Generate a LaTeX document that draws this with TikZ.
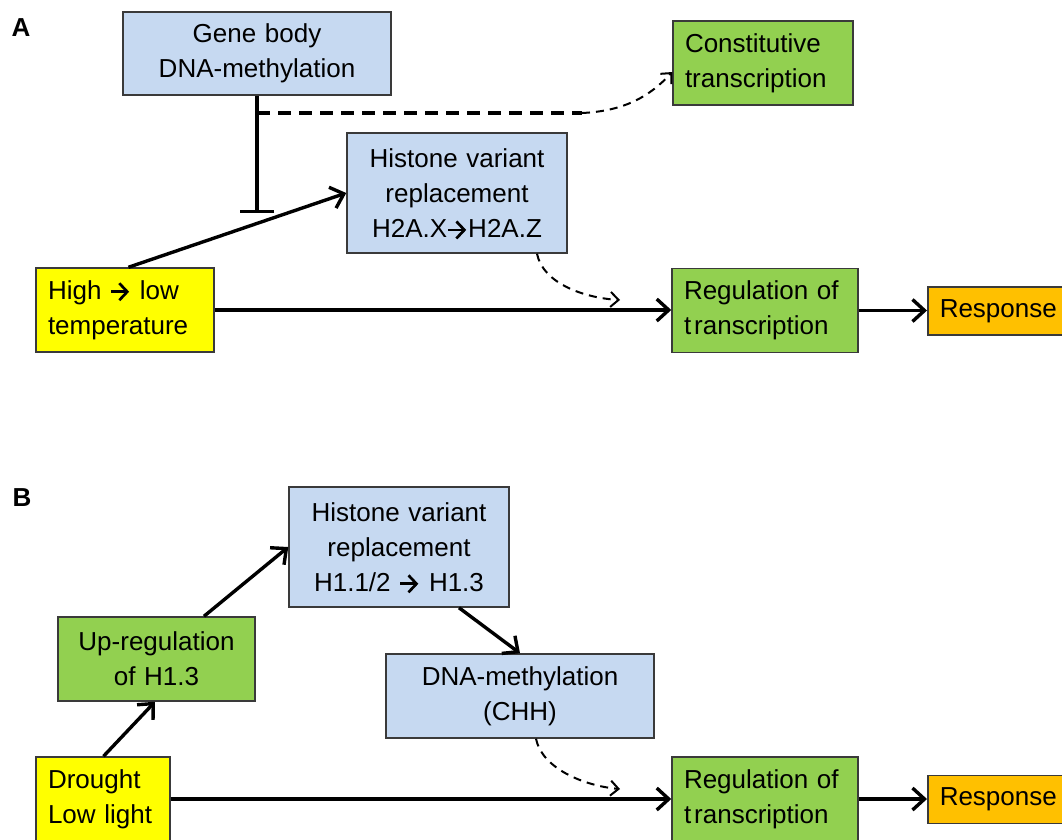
\documentclass[tikz,border=0pt]{standalone}
\usepackage{fontspec}
\setmainfont{Liberation Sans}
\usetikzlibrary{arrows.meta}
\definecolor{boxblue}{HTML}{C6D9F1}
\definecolor{boxgreen}{HTML}{92D050}
\definecolor{boxyellow}{HTML}{FFFF00}
\definecolor{boxorange}{HTML}{FFC000}
\definecolor{boxline}{HTML}{3A3A3A}
\newsavebox{\arrbox}
\newcommand{\rarr}{\usebox{\arrbox}}
\begin{document}
\sbox{\arrbox}{\begin{pgfpicture}
  \pgfpathrectangle{\pgfpoint{-1pt}{0pt}}{\pgfpoint{21pt}{15pt}}
  \pgfusepath{use as bounding box}
  \pgfsetlinewidth{2.7pt}
  \pgfsetarrowsend{Straight Barb[length=8pt,width=17pt]}
  \pgfpathmoveto{\pgfpoint{0pt}{7.5pt}}
  \pgfpathlineto{\pgfpoint{18pt}{7.5pt}}
  \pgfusepath{stroke}
\end{pgfpicture}}
\begin{tikzpicture}[x=1pt,y=-1pt,
  box/.style={draw=boxline, line width=1.5pt, inner xsep=12pt, inner ysep=0pt,
    font=\fontsize{26}{35}\selectfont},
  blue/.style={box, fill=boxblue},
  green/.style={box, fill=boxgreen},
  yellow/.style={box, fill=boxyellow},
  orange/.style={box, fill=boxorange},
  panel/.style={font=\fontsize{26}{30}\selectfont\bfseries},
  conn/.style={line width=3.4pt, -{Straight Barb[length=12pt,width=22pt]}},
  dconn/.style={line width=2pt, dash pattern=on 8pt off 6pt, -{Straight Barb[length=8pt,width=15pt]}},
  thickdash/.style={line width=3.8pt, dash pattern=on 13pt off 8pt},
  inhib/.style={line width=3.4pt, -{Bar[width=34pt]}}
]
\useasboundingbox (0,0) rectangle (1062,839);
\clip (0,0) rectangle (1062,839);

% ---------- Panel A ----------
\node[panel] (labA) at (21,28) {A};
\node[blue, minimum width=268pt, minimum height=83pt, text width=244pt, align=center] (gene) at (257,53.5) {Gene body\\DNA-methylation};
\node[green, minimum width=180pt, minimum height=84pt, text width=156pt, align=left] (const) at (763,63) {Constitutive\\transcription};
\node[blue, minimum width=220pt, minimum height=120pt, text width=196pt, align=center] (histA) at (457,193) {Histone variant\\replacement\\H2A.X\rarr H2A.Z};
\node[yellow, minimum width=178pt, minimum height=84pt, text width=154pt, align=left] (high) at (125,310) {High \rarr{}  low\\temperature};
\node[green, minimum width=186pt, minimum height=84pt, text width=162pt, align=left] (regA) at (765,310.5) {Regulation of\\t\kern3pt ranscription};
\node[orange, anchor=west, minimum width=150pt, minimum height=48pt, text width=126pt, align=left] (respA) at (927,311) {Response};

\coordinate (tbar) at (257,213);
\coordinate (d1) at (257,113);
\coordinate (d2) at (582,113);
\coordinate (dA) at (620,300);

\draw[inhib] (gene.south) -- (tbar);
\draw[thickdash] (d1) -- (d2);
\draw[dconn] (d2) .. controls (625,111) and (650,96) .. ([yshift=-9pt]const.west);
\draw[conn] ([xshift=3.5pt]high.north) -- (histA.west);
\draw[dconn] ([xshift=80pt]histA.south) .. controls ([xshift=86pt,yshift=-30pt]histA.south) and (585,298) .. (dA);
\draw[conn] (high.east) -- (high.east -| regA.west);
\draw[conn] (regA.east) -- (regA.east -| respA.west);

% ---------- Panel B ----------
\node[panel] (labB) at (22,498) {B};
\node[blue, minimum width=220pt, minimum height=120pt, text width=196pt, align=center] (histB) at (399,547) {Histone variant\\replacement\\H1.1/2 \rarr{} H1.3};
\node[green, minimum width=197pt, minimum height=84pt, text width=173pt, align=center] (up) at (156.5,659) {Up-regulation\\of H1.3};
\node[blue, minimum width=268pt, minimum height=84pt, text width=244pt, align=center] (dna) at (520,696) {DNA-methylation\\(CHH)};
\node[yellow, minimum width=134pt, minimum height=84pt, text width=110pt, align=left] (drought) at (103,799) {Drought\\Low light};
\node[green, minimum width=186pt, minimum height=84pt, text width=162pt, align=left] (regB) at (765,799) {Regulation of\\t\kern3pt ranscription};
\node[orange, anchor=west, minimum width=150pt, minimum height=48pt, text width=126pt, align=left] (respB) at (927,799.5) {Response};

\coordinate (dB) at (620,789);

\draw[conn] ([xshift=0.5pt]drought.north) -- ([xshift=-1.5pt]up.south);
\draw[conn] ([xshift=47.5pt]up.north) -- (histB.west);
\draw[conn] ([xshift=60pt]histB.south) -- (dna.north);
\draw[dconn] ([xshift=16pt]dna.south) .. controls ([xshift=22pt,yshift=-30pt]dna.south) and (585,786) .. (dB);
\draw[conn] (drought.east) -- (drought.east -| regB.west);
\draw[conn] (regB.east) -- (regB.east -| respB.west);
\end{tikzpicture}
\end{document}
